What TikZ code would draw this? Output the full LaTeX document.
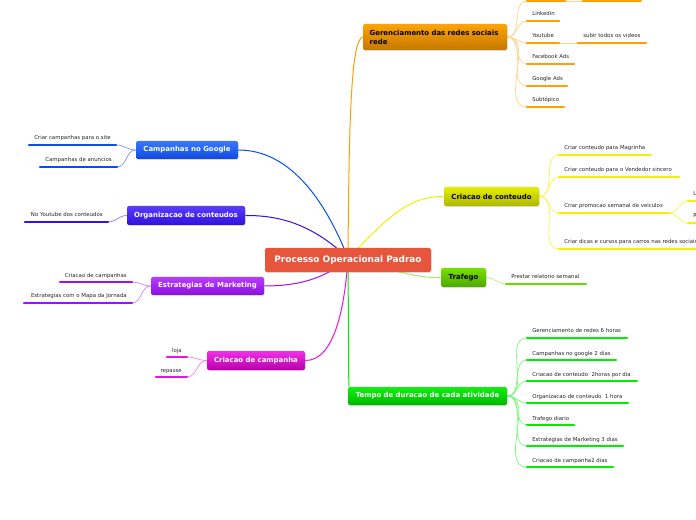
\documentclass[tikz,border=0pt]{standalone}
\usepackage{fontspec}
\setmainfont{DejaVu Sans}
\usetikzlibrary{shadows,backgrounds}
\definecolor{cRed}{HTML}{E8553D}
\definecolor{cOrT}{HTML}{FFA300}
\definecolor{cOrB}{HTML}{C47800}
\definecolor{cOr}{HTML}{FF9F00}
\definecolor{cYeT}{HTML}{E6EE00}
\definecolor{cYeB}{HTML}{AEB800}
\definecolor{cYe}{HTML}{F2F200}
\definecolor{cLiT}{HTML}{78E000}
\definecolor{cLiB}{HTML}{4EA800}
\definecolor{cLi}{HTML}{66DD00}
\definecolor{cGrT}{HTML}{10F010}
\definecolor{cGrB}{HTML}{00B800}
\definecolor{cGr}{HTML}{00EE00}
\definecolor{cBlT}{HTML}{3A78FF}
\definecolor{cBlB}{HTML}{1048E0}
\definecolor{cBl}{HTML}{0A4CF5}
\definecolor{cViT}{HTML}{5A3CFF}
\definecolor{cViB}{HTML}{3010DC}
\definecolor{cVi}{HTML}{3010EE}
\definecolor{cPuT}{HTML}{B83CFF}
\definecolor{cPuB}{HTML}{8C10DC}
\definecolor{cPu}{HTML}{A010F5}
\definecolor{cMaT}{HTML}{F030E8}
\definecolor{cMaB}{HTML}{B800A8}
\definecolor{cMa}{HTML}{F010E0}
\definecolor{cTxt}{HTML}{262626}
\tikzset{
  box/.style={rounded corners=1.5pt, inner sep=0pt, align=center,
    font=\bfseries\fontsize{5.2}{6.2}\selectfont,
    drop shadow={opacity=0.3, shadow xshift=0.4pt, shadow yshift=-0.6pt}},
  leaftext/.style={inner sep=0pt, text=cTxt, font=\fontsize{4.05}{5}\selectfont},
  uline/.style={line width=1.9pt, line cap=round},
  mc/.style={line width=0.75pt},
  cc/.style={line width=0.55pt},
}
\newcommand\leafR[6]{%
  \coordinate (#1L) at (#2,#4);
  \coordinate (#1R) at (#3,#4);
  \draw[uline,#5] (#1L) -- (#1R);
  \node[leaftext,anchor=base west] (#1) at ({#2+5},{#4-5}) {#6};
}
\newcommand\leafL[6]{%
  \coordinate (#1L) at (#2,#4);
  \coordinate (#1R) at (#3,#4);
  \draw[uline,#5] (#1L) -- (#1R);
  \node[leaftext,anchor=base east] (#1) at ({#3-5},{#4-5}) {#6};
}
\begin{document}
\begin{tikzpicture}[x=0.75pt,y=-0.75pt]
\useasboundingbox (0,0) rectangle (696,520);

% main nodes
\node[box, fill=cRed, text=white, font=\bfseries\fontsize{6.7}{7.7}\selectfont,
  minimum width=124.5pt, minimum height=18pt] (cen) at (348,260) {Processo Operacional Padrao};
\coordinate (hub) at (348,258);

\node[box, top color=cOrT, bottom color=cOrB, text=black, align=left,
  font=\bfseries\fontsize{5.2}{6.75}\selectfont, text width=98pt,
  inner xsep=5pt, minimum height=19.5pt] (ger) at (435,37) {Gerenciamento das redes sociais\\rede};
\node[box, top color=cYeT, bottom color=cYeB, text=black,
  minimum width=71.25pt, minimum height=14.25pt] (cc) at (491.5,196.5) {Criacao de conteudo};
\node[box, top color=cLiT, bottom color=cLiB, text=black,
  minimum width=33.75pt, minimum height=14.25pt] (traf) at (463.5,277.5) {Trafego};
\node[box, top color=cGrT, bottom color=cGrB, text=white,
  minimum width=119.25pt, minimum height=13.5pt] (tempo) at (427.5,396) {Tempo de duracao de cada atividade};
\node[box, top color=cBlT, bottom color=cBlB, text=white,
  minimum width=76.5pt, minimum height=13.5pt] (campg) at (187,150) {Campanhas no Google};
\node[box, top color=cViT, bottom color=cViB, text=white,
  minimum width=88.5pt, minimum height=14.25pt] (org) at (186,215.5) {Organizacao de conteudos};
\node[box, top color=cPuT, bottom color=cPuB, text=white,
  minimum width=84.75pt, minimum height=13.5pt] (est) at (207.5,286) {Estrategias de Marketing};
\node[box, top color=cMaT, bottom color=cMaB, text=white,
  minimum width=73.5pt, minimum height=14.25pt] (ccamp) at (256,360.5) {Criacao de campanha};

% orange leaves
\coordinate (o0L) at (527,1); \coordinate (o0R) at (565,1);
\draw[uline,cOr] (o0L) -- (o0R);
\coordinate (o0bL) at (583,1); \coordinate (o0bR) at (641,1);
\draw[uline,cOr] (o0bL) -- (o0bR);
\leafR{o1}{527}{559}{21}{cOr}{Linkedin}
\leafR{o2}{527}{559}{43}{cOr}{Youtube}
\leafR{o2b}{578}{646}{43}{cOr}{subir todos os videos}
\leafR{o3}{527}{574}{64}{cOr}{Facebook Ads}
\leafR{o4}{527}{567}{86}{cOr}{Google Ads}
\leafR{o5}{527}{564}{107}{cOr}{Subtópico}

% yellow leaves
\leafR{y1}{559}{651}{155}{cYe}{Criar conteudo para Magrinha}
\leafR{y2}{559}{679}{177}{cYe}{Criar conteudo para o Vendedor sincero}
\leafR{y3}{559}{669}{213}{cYe}{Criar promocao semanal de veiculos}
\leafR{y3a}{688}{705}{201}{cYe}{L}
\leafR{y3b}{688}{705}{223}{cYe}{R}
\leafR{y4}{559}{710}{249}{cYe}{Criar dicas e cursos para carros nas redes sociais}

% trafego leaf
\leafR{t1}{506}{586}{284}{cLi}{Prestar relatorio semanal}

% tempo leaves
\leafR{g1}{527}{627}{338}{cGr}{Gerenciamento de redes 6 horas}
\leafR{g2}{527}{616}{360}{cGr}{Campanhas no google 2 dias}
\leafR{g3}{527}{637}{381}{cGr}{Criacao de conteudo\ \ 2horas por dia}
\leafR{g4}{527}{628}{403}{cGr}{Organizacao de conteudo\ \ 1 hora}
\leafR{g5}{527}{574}{425}{cGr}{Trafego diario}
\leafR{g6}{527}{623}{446}{cGr}{Estrategias de Marketing 3 dias}
\leafR{g7}{527}{613}{467}{cGr}{Criacao de campanha2 dias}

% left leaves
\leafL{b1}{29}{116}{145}{cBl}{Criar campanhas para o site}
\leafL{b2}{40}{117}{167}{cBl}{Campanhas de anuncios}
\leafL{v1}{25}{108}{222}{cVi}{No Youtube dos conteudos}
\leafL{p1}{60}{132}{282}{cPu}{Criacao de campanhas}
\leafL{p2}{24}{132}{303}{cPu}{Estrategias com o Mapa da Jornada}
\leafL{m1}{167}{187}{357}{cMa}{loja}
\leafL{m2}{156}{187}{377}{cMa}{repasse}

\begin{pgfonlayer}{background}
% main connectors
\draw[mc,cOr] (hub) .. controls (349,120) and (351,40) .. (ger.west);
\draw[mc,cYe] (hub) .. controls (385,222) and (405,196) .. (cc.west);
\draw[mc,cBl] (hub) .. controls (325,200) and (290,150) .. (campg.east);
\draw[mc,cVi] (hub) .. controls (320,232) and (290,215) .. (org.east);
\draw[mc,cPu] (hub) .. controls (325,280) and (295,286) .. (est.east);
\draw[mc,cMa] (hub) .. controls (345,305) and (335,361) .. (ccamp.east);
\draw[mc,cGr] (hub) -- ([xshift=0.8pt]tempo.north west);
\draw[mc,cLi!60] (hub) .. controls (410,276) and (425,278) .. (traf.west);

% child connectors
\foreach \n in {o0,o1,o2,o3,o4,o5}
  \draw[cc,cOr!45] (ger.east) to[out=0,in=180] (\n L);
\draw[cc,cOr!45] (o0R) -- (o0bL);
\draw[cc,cOr!45] (o2R) -- (o2bL);
\foreach \n in {y1,y2,y3,y4}
  \draw[cc,cYe!70] (cc.east) to[out=0,in=180] (\n L);
\foreach \n in {y3a,y3b}
  \draw[cc,cYe!70] (y3R) to[out=0,in=180] (\n L);
\draw[cc,cLi!50] (traf.east) to[out=0,in=180] (t1L);
\foreach \n in {g1,g2,g3,g4,g5,g6,g7}
  \draw[cc,cGr!50] (tempo.east) to[out=0,in=180] (\n L);
\foreach \n in {b1,b2}
  \draw[cc,cBl!55] (campg.west) to[out=180,in=0] (\n R);
\draw[cc,cVi!55] (org.west) to[out=180,in=0] (v1R);
\foreach \n in {p1,p2}
  \draw[cc,cPu!50] (est.west) to[out=180,in=0] (\n R);
\foreach \n in {m1,m2}
  \draw[cc,cMa!50] (ccamp.west) to[out=180,in=0] (\n R);
\end{pgfonlayer}
\end{tikzpicture}
\end{document}
